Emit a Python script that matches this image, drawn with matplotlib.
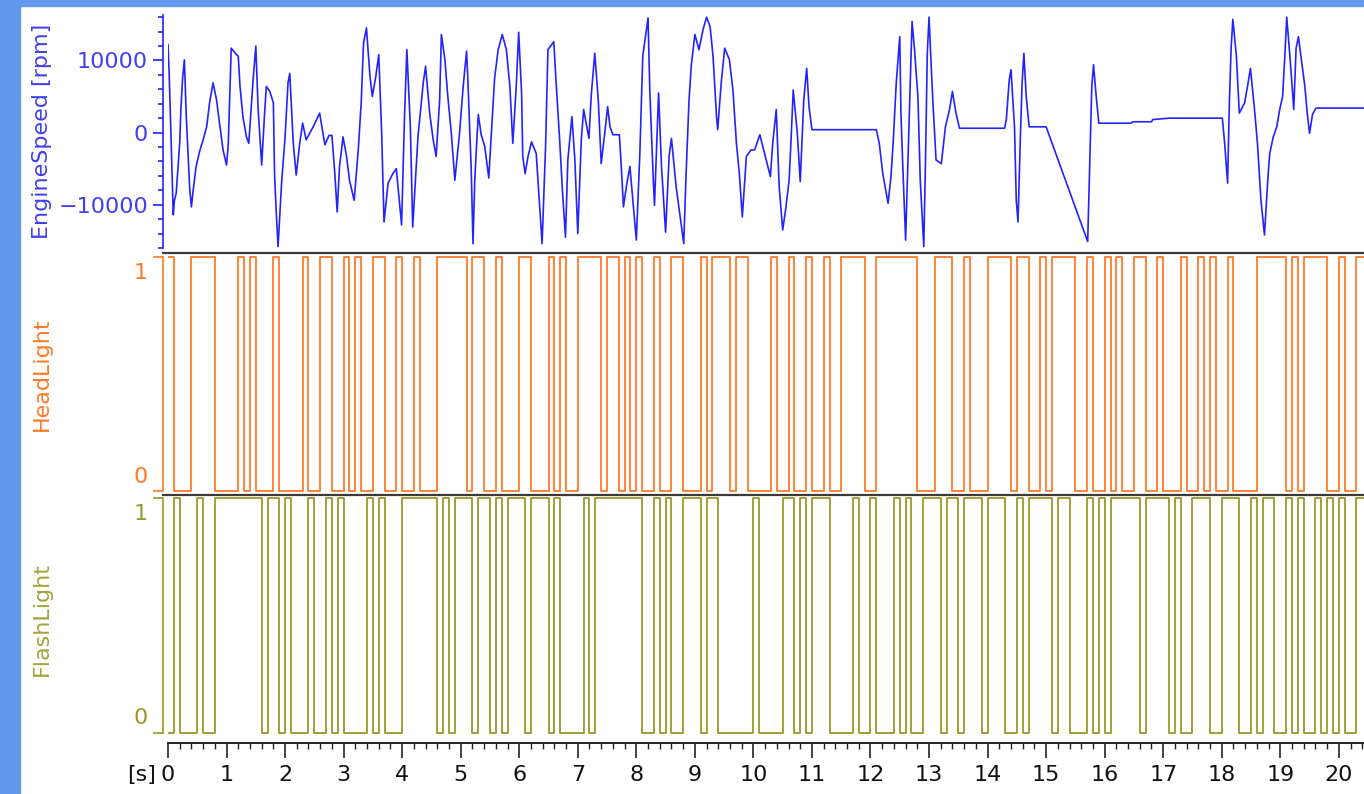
import numpy as np
import matplotlib.pyplot as plt
from matplotlib.ticker import MultipleLocator, FixedLocator, NullFormatter
from matplotlib.lines import Line2D
from matplotlib.patches import Rectangle

## signal data (time in s)
eng_t = [0.00, 0.02, 0.09, 0.11, 0.14, 0.20, 0.22, 0.25, 0.28, 0.31, 0.37, 0.40, 0.43, 0.48, 0.54, 0.60, 0.66, 0.71, 0.77, 0.83, 0.88, 0.94, 1.00,
         1.03, 1.05, 1.08, 1.17, 1.20, 1.23, 1.28, 1.34, 1.38, 1.42, 1.45, 1.50, 1.54, 1.60, 1.65, 1.68, 1.74, 1.80, 1.82, 1.85, 1.88, 1.94, 2.00,
         2.05, 2.08, 2.14, 2.19, 2.25, 2.30, 2.36, 2.48, 2.59, 2.68, 2.75, 2.80, 2.85, 2.89, 2.93, 2.99,
         3.05, 3.10, 3.18, 3.25, 3.30, 3.34, 3.39, 3.45, 3.49, 3.55, 3.60, 3.65, 3.69, 3.76, 3.84, 3.90, 3.94, 3.99,
         4.04, 4.08, 4.14, 4.18, 4.27, 4.36, 4.40, 4.47, 4.53, 4.58, 4.64, 4.67, 4.73, 4.78, 4.84, 4.90, 4.98,
         5.04, 5.10, 5.12, 5.15, 5.18, 5.21, 5.24, 5.27, 5.30, 5.35, 5.41, 5.48, 5.52, 5.58, 5.64, 5.71, 5.78, 5.84, 5.89, 5.95, 5.99,
         6.04, 6.06, 6.10, 6.15, 6.21, 6.29, 6.35, 6.39, 6.45, 6.49, 6.59, 6.63, 6.69, 6.74, 6.79, 6.83, 6.90, 6.95, 7.00,
         7.06, 7.10, 7.19, 7.23, 7.29, 7.35, 7.40, 7.46, 7.51, 7.55, 7.60, 7.71, 7.75, 7.78, 7.83, 7.89, 7.94, 8.00,
         8.06, 8.11, 8.20, 8.23, 8.29, 8.31, 8.38, 8.43, 8.50, 8.56, 8.60, 8.68, 8.74, 8.81, 8.85, 8.90, 8.94, 9.00,
         9.07, 9.14, 9.20, 9.26, 9.31, 9.37, 9.39, 9.45, 9.51, 9.59, 9.65, 9.71, 9.76, 9.81, 9.88, 9.96, 10.02,
         10.11, 10.19, 10.29, 10.33, 10.39, 10.44, 10.50, 10.55, 10.61, 10.64, 10.68, 10.75, 10.80, 10.86, 10.91, 10.95, 11.00,
         12.10, 12.15, 12.21, 12.30, 12.35, 12.39, 12.44, 12.50, 12.52, 12.55, 12.60, 12.64, 12.67, 12.71, 12.75, 12.81, 12.85, 12.91, 12.94, 12.97, 13.00,
         13.04, 13.07, 13.12, 13.21, 13.28, 13.35, 13.40, 13.46, 13.52, 14.29, 14.32, 14.37, 14.40, 14.46, 14.49, 14.52, 14.56, 14.59, 14.62, 14.66, 14.71,
         15.00, 15.71, 15.74, 15.78, 15.81, 15.85, 15.90, 16.45, 16.48, 16.80, 16.82, 17.10, 18.01,
         18.05, 18.10, 18.13, 18.16, 18.19, 18.25, 18.30, 18.39, 18.44, 18.49, 18.56, 18.61, 18.67, 18.73, 18.79, 18.82, 18.88, 18.94, 18.99, 19.04, 19.08, 19.11,
         19.16, 19.19, 19.23, 19.27, 19.31, 19.36, 19.42, 19.46, 19.50, 19.55, 19.61, 20.45]

eng_rpm = [12200, 8200, -11400, -9400, -8400, -1500, 3200, 7600, 10100, 2700, -7700, -10300, -8000, -4700, -2600, -1000, 800, 4100, 6900, 4500, 1300, -2400, -4500,
           -1500, 3600, 11700, 10800, 10600, 6400, 2200, -600, -1500, 3400, 6900, 12000, 3200, -4500, 2700, 6400, 5700, 4100, -5700, -11200, -15800, -7000, -600,
           6900, 8200, -1500, -5900, -1500, 1300, -1000, 800, 2700, -1700, -400, -400, -5700, -11000, -4700, -600,
           -3300, -6600, -9400, -2400, 4100, 12400, 14500, 7800, 5000, 7800, 10800, -100, -12400, -7000, -5700, -5000, -8400, -12800,
           2200, 11500, 800, -13100, -600, 6900, 9200, 2700, -1000, -3300, 4500, 13600, 10100, 5000, -100, -6600, -100,
           6200, 11300, 7800, 1300, -5200, -15400, -6600, -1900, 2500, -300, -1900, -6300, -600, 7600, 11500, 13600, 11500, 6400, -1500, 6600, 13900,
           5500, -3300, -5700, -3300, -1300, -2900, -10300, -15400, -1900, 11500, 12600, 6900, -1000, -8400, -14500, -3800, 2200, -3800, -14000,
           -1000, 3200, -800, 5200, 11000, 4500, -4300, -100, 3600, 800, -300, -300, -5700, -10300, -7500, -4700, -9400, -14900,
           -2900, 10600, 15900, 5900, -6600, -10100, 5500, -4700, -13800, -3300, -800, -7500, -11200, -15400, -5700, 4500, 9400, 13600,
           11500, 14300, 16000, 14700, 10600, 2200, 400, 6900, 11700, 10100, 5900, -1500, -5700, -11700, -3300, -2400, -2400,
           -300, -2900, -6100, -1500, 3200, -7500, -13500, -10700, -6600, -1500, 5900, -100, -6800, 4500, 8900, 3600, 400,
           400, -1500, -5700, -9800, -6100, -1000, 6900, 13300, 2700, -4300, -14900, -3800, 4100, 15400, 11700, 5000, -6600, -15800, -3800, 11000, 16000,
           8700, 3600, -3800, -4300, 800, 3200, 5700, 2700, 600, 600, 1800, 7300, 8700, 800, -9400, -12400, -600, 6900, 11000, 5000, 800,
           800, -15100, -6100, 6400, 9400, 5500, 1300, 1300, 1500, 1500, 1800, 2000, 2000,
           -1500, -7000, 4100, 11700, 15700, 10600, 2700, 4100, 6400, 8900, 3200, -1500, -9400, -14200, -6100, -2900, -600, 800, 3200, 5000, 11000, 16000,
           11000, 7800, 3200, 11700, 13300, 10100, 6400, 2700, -100, 2500, 3400, 3400]

## digital signals: start value + switching times
head_start = 1
head_edges = [0.1, 0.4, 0.8, 1.2, 1.3, 1.4, 1.5, 1.8, 1.9, 2.3, 2.4, 2.6, 2.8, 3.0, 3.1, 3.2, 3.3, 3.5, 3.7, 3.9,
              4.0, 4.2, 4.3, 4.6, 5.1, 5.2, 5.4, 5.6, 5.7, 6.0, 6.2, 6.5, 6.6, 6.7, 6.8, 7.0, 7.4, 7.5, 7.7, 7.8,
              7.9, 8.0, 8.1, 8.3, 8.4, 8.6, 8.8, 9.1, 9.2, 9.3, 9.6, 9.7, 9.9, 10.3, 10.4, 10.6, 10.7, 10.9, 11.0, 11.2,
              11.3, 11.5, 11.9, 12.1, 12.8, 13.1, 13.4, 13.6, 13.7, 14.0, 14.4, 14.5, 14.7, 14.9, 15.0, 15.1, 15.5, 15.7, 15.8, 16.0,
              16.1, 16.2, 16.3, 16.5, 16.7, 16.9, 17.0, 17.3, 17.4, 17.6, 17.7, 17.8, 17.9, 18.1, 18.2, 18.6, 19.1, 19.2, 19.3, 19.4,
              19.8, 20.0, 20.1, 20.3]

flash_start = 0
flash_edges = [0.1, 0.2, 0.5, 0.6, 0.8, 1.6, 1.7, 1.9, 2.0, 2.1, 2.4, 2.5, 2.7, 2.8, 2.9, 3.0, 3.4, 3.5, 3.6, 3.7,
               4.0, 4.6, 4.7, 4.8, 4.9, 5.2, 5.3, 5.5, 5.6, 5.7, 5.8, 6.1, 6.2, 6.5, 6.6, 6.7, 7.1, 7.2, 7.3, 8.1,
               8.3, 8.4, 8.5, 8.6, 8.8, 9.1, 9.2, 9.4, 10.0, 10.1, 10.5, 10.7, 10.8, 10.9, 11.0, 11.3, 11.7, 11.8, 12.0, 12.1,
               12.4, 12.5, 12.6, 12.7, 12.9, 13.2, 13.3, 13.5, 13.6, 13.9, 14.0, 14.3, 14.5, 14.6, 14.7, 15.1, 15.2, 15.4, 15.7, 15.8,
               15.9, 16.0, 16.1, 16.6, 16.7, 17.1, 17.2, 17.3, 17.5, 17.8, 18.0, 18.3, 18.5, 18.6, 18.7, 18.9, 19.1, 19.2, 19.3, 19.4,
               19.6, 19.7, 19.8, 19.9, 20.0, 20.1, 20.3]

x_ticks = list(range(0, 21))

BLUE = '#2323ff'
BLUE_TXT = '#4040f0'
ORANGE = '#ff7a26'
OLIVE = '#98982a'
OLIVE_TXT = '#a3a33c'
FRAME = '#6398ea'

plt.rcParams['font.family'] = 'DejaVu Sans'
plt.rcParams['font.size'] = 16

W, H = 1364, 794
XMAX = 20.43
fig = plt.figure(figsize=(W / 100, H / 100), dpi=100)

def box(l, t, r, b):
    return [l / W, 1 - b / H, (r - l) / W, (b - t) / H]

ax1 = fig.add_axes(box(168, 15, W, 248))
ax2 = fig.add_axes(box(168, 253, W, 495))
ax3 = fig.add_axes(box(168, 495, W, 743))

LABEL_X = -116 / (W - 168)

for ax in (ax1, ax2, ax3):
    ax.set_xlim(0, XMAX)
    ax.set_facecolor('none')
    for s in ('top', 'right', 'bottom'):
        ax.spines[s].set_visible(False)

##EngineSpeed panel
ax1.plot(eng_t, eng_rpm, color=BLUE, lw=1.2)
ax1.set_ylim(-16000, 16300)
ax1.spines['left'].set_position(('outward', 3.6))
ax1.spines['left'].set_color(BLUE)
ax1.spines['left'].set_linewidth(1.2)
ax1.yaxis.set_major_locator(FixedLocator([-10000, 0, 10000]))
ax1.yaxis.set_minor_locator(MultipleLocator(2000))
ax1.tick_params(axis='y', which='major', length=7.2, width=1.2, color=BLUE, labelcolor=BLUE_TXT, pad=3.6)
ax1.tick_params(axis='y', which='minor', length=3.6, width=1.2, color=BLUE)
ax1.tick_params(axis='x', which='both', bottom=False, labelbottom=False)
ax1.set_ylabel('EngineSpeed [rpm]', color=BLUE_TXT)
ax1.yaxis.set_label_coords(LABEL_X, 0.5)

##digital panels
def draw_digital(ax, start, edges, col, txtcol, name, ylo, yhi, off1, off0):
    states = (start + np.arange(len(edges) + 1)) % 2
    xs = np.r_[0, edges, XMAX]
    ys = np.r_[states, states[-1]]
    ax.step(xs, ys, where='post', color=col, lw=1.3)
    ax.set_ylim(ylo, yhi)
    ax.spines['left'].set_position(('outward', 3.6))
    ax.spines['left'].set_bounds(0, 1)
    ax.spines['left'].set_color(col)
    ax.spines['left'].set_linewidth(1.2)
    ax.set_yticks([0, 1])
    ax.yaxis.set_major_formatter(NullFormatter())
    ax.tick_params(axis='y', length=7.2, width=1.2, color=col)
    ax.annotate('1', xy=(0, 1), xycoords=('axes fraction', 'data'), xytext=(-20, off1),
                textcoords='offset pixels', ha='right', va='center', color=col)
    ax.annotate('0', xy=(0, 0), xycoords=('axes fraction', 'data'), xytext=(-20, off0),
                textcoords='offset pixels', ha='right', va='center', color=col)
    ax.set_ylabel(name, color=txtcol)
    ax.yaxis.set_label_coords(LABEL_X, 0.5)

draw_digital(ax2, head_start, head_edges, ORANGE, ORANGE, 'HeadLight', -0.015, 1.017, -16, 14)
draw_digital(ax3, flash_start, flash_edges, OLIVE, OLIVE_TXT, 'FlashLight', -0.043, 1.013, -16, 15)

ax2.tick_params(axis='x', which='both', bottom=False, labelbottom=False)

##time axis
ax3.spines['bottom'].set_visible(True)
ax3.spines['bottom'].set_color('#222222')
ax3.spines['bottom'].set_linewidth(1.4)
ax3.set_xticks(x_ticks)
ax3.xaxis.set_minor_locator(MultipleLocator(0.2))
ax3.tick_params(axis='x', which='major', length=10.5, width=1.2, color='#222222', pad=5.5, labelcolor='#111111')
ax3.tick_params(axis='x', which='minor', length=4.5, width=1.0, color='#222222')
fig.text(142 / W, 1 - 775 / H, '[s]', ha='center', va='center', color='#111111')

##panel separators
for yp in (252.5, 495):
    fig.add_artist(Line2D([163 / W, 1], [1 - yp / H] * 2, color='#3a3a3a', lw=1.6))

##window frame
fig.add_artist(Rectangle((0, 0), 20 / W, 1, color=FRAME, transform=fig.transFigure))
fig.add_artist(Rectangle((0, 1 - 6 / H), 1, 6 / H, color=FRAME, transform=fig.transFigure))

fig.savefig('out.png', dpi=100)
